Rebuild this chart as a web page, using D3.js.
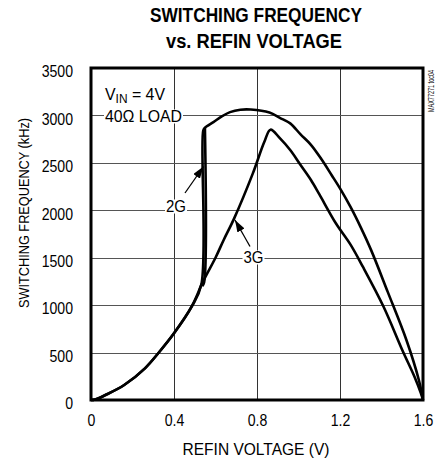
<!DOCTYPE html>
<html>
<head>
<meta charset="utf-8">
<script src="https://cdn.jsdelivr.net/npm/d3@7"></script>
<style>
  body { margin: 0; background: #fff; }
  text { font-family: "Liberation Sans", Arial, sans-serif; fill: #000; }
</style>
</head>
<body>
<div id="chart"></div>
<script>
// tick values
var xTicks = [0, 0.4, 0.8, 1.2, 1.6];
var yTicks = [0, 500, 1000, 1500, 2000, 2500, 3000, 3500];

// 3G curve: REFIN voltage (V) / switching frequency (kHz)
var v3G = [0, 0.02, 0.07, 0.16, 0.26, 0.33, 0.40, 0.485, 0.54, 0.60, 0.64, 0.69, 0.78, 0.835, 0.865,
           0.91, 0.96, 1.01, 1.06, 1.10, 1.18, 1.25, 1.31, 1.41, 1.50, 1.56, 1.59, 1.6];
var f3G = [0, 5, 53, 158, 334, 509, 703, 984, 1250, 1500, 1690, 1915, 2389, 2720, 2850,
           2760, 2635, 2477, 2319, 2170, 1863, 1640, 1405, 983, 527, 240, 70, 0];

// 2G curve (same rising part as 3G up to the jump)
var v2G = [0, 0.02, 0.07, 0.16, 0.26, 0.33, 0.40, 0.485, 0.532, 0.541, 0.549, 0.59, 0.63, 0.67, 0.72, 0.77,
           0.86, 0.91, 0.96, 1.01, 1.06, 1.11, 1.16, 1.20, 1.25, 1.30, 1.35, 1.43, 1.52, 1.58, 1.6];
var f2G = [0, 5, 53, 158, 334, 509, 703, 984, 1220, 2840, 2870, 2930, 2990, 3035, 3060, 3062,
           3030, 2975, 2916, 2800, 2690, 2540, 2370, 2231, 2038, 1820, 1580, 1140, 633, 211, 0];

// 2G return path of the narrow loop at the jump
var v2Gret = [0.549, 0.545, 0.536];
var f2Gret = [2870, 1240, 1200];

var W = 435, H = 464;
var svg = d3.select('#chart').append('svg').attr('width', W).attr('height', H);

svg.append('defs').append('marker').attr('id', 'arrow')
    .attr('viewBox', '0 0 12 8').attr('refX', 12).attr('refY', 4)
    .attr('markerWidth', 12).attr('markerHeight', 8)
    .attr('markerUnits', 'userSpaceOnUse').attr('orient', 'auto')
    .append('path').attr('d', 'M0,0 L12,4 L0,8 Z').attr('fill', '#000');

var x = d3.scaleLinear().domain([0, 1.6]).range([91, 423]);
var y = d3.scaleLinear().domain([0, 3500]).range([400, 68]);

// grid as thin filled rects
svg.selectAll('rect.vgrid').data(xTicks.slice(1, -1)).enter().append('rect').attr('class', 'vgrid')
    .attr('x', function(d) { return Math.round(x(d)); }).attr('width', 1)
    .attr('y', y(3500)).attr('height', y(0) - y(3500))
    .attr('fill', '#333');
svg.selectAll('rect.hgrid').data(yTicks.slice(1, -1)).enter().append('rect').attr('class', 'hgrid')
    .attr('y', function(d) { return Math.round(y(d)); }).attr('height', 1)
    .attr('x', x(0)).attr('width', x(1.6) - x(0))
    .attr('fill', '#555');

// squeeze text to look like the narrow face of the original
function squeeze(sel, k) {
    sel.each(function() {
        var len = this.getComputedTextLength();
        d3.select(this).attr('textLength', len * k).attr('lengthAdjust', 'spacingAndGlyphs');
    });
    return sel;
}

// title
svg.append('text').attr('x', 256).attr('y', 22).attr('text-anchor', 'middle')
    .style('font-size', '20px').style('font-weight', 'bold')
    .attr('textLength', 212).attr('lengthAdjust', 'spacingAndGlyphs').text('SWITCHING FREQUENCY');
svg.append('text').attr('x', 254).attr('y', 48).attr('text-anchor', 'middle')
    .style('font-size', '20px').style('font-weight', 'bold')
    .attr('textLength', 176).attr('lengthAdjust', 'spacingAndGlyphs').text('vs. REFIN VOLTAGE');

// tick labels
var xAxis = svg.append('g').attr('transform', 'translate(0,' + y(0) + ')')
    .call(d3.axisBottom(x).tickValues(xTicks).tickSize(0).tickPadding(15)
        .tickFormat(function(d) { return d === 0 ? '0' : d3.format('.1f')(d); }));
xAxis.select('.domain').remove();
squeeze(xAxis.selectAll('text').style('font-size', '16px').style('font-family', null), 0.88);

var yAxis = svg.append('g').attr('transform', 'translate(' + x(0) + ',0)')
    .call(d3.axisLeft(y).tickValues(yTicks).tickSize(0).tickPadding(18).tickFormat(d3.format('d')));
yAxis.select('.domain').remove();
squeeze(yAxis.selectAll('text').style('font-size', '16px').style('font-family', null)
    .attr('dy', '0.55em'), 0.88);

// axis titles
svg.append('text').attr('x', 256).attr('y', 455).attr('text-anchor', 'middle')
    .style('font-size', '16px').attr('textLength', 147).attr('lengthAdjust', 'spacingAndGlyphs')
    .text('REFIN VOLTAGE (V)');
svg.append('text').attr('transform', 'translate(29,213) rotate(-90)')
    .attr('text-anchor', 'middle').style('font-size', '15px')
    .attr('textLength', 190).attr('lengthAdjust', 'spacingAndGlyphs')
    .text('SWITCHING FREQUENCY (kHz)');

// side code
svg.append('text').attr('transform', 'translate(434,91) rotate(-90)')
    .attr('text-anchor', 'middle').style('font-size', '9px')
    .attr('textLength', 42).attr('lengthAdjust', 'spacingAndGlyphs')
    .text('MAX77271 toc04');

// curves
var line = d3.line().curve(d3.curveCatmullRom.alpha(0.5))
    .x(function(d) { return x(d[0]); }).y(function(d) { return y(d[1]); });
var curves = [d3.zip(v3G, f3G), d3.zip(v2G, f2G), d3.zip(v2Gret, f2Gret)];
svg.selectAll('.curve').data(curves).enter().append('path').attr('class', 'curve')
    .attr('d', line).attr('fill', 'none').attr('stroke', '#000')
    .attr('stroke-width', 2.6).attr('stroke-linejoin', 'round');

// arrows
svg.append('line').attr('x1', 185).attr('y1', 193).attr('x2', 203.5).attr('y2', 166.5)
    .attr('stroke', '#000').attr('stroke-width', 1.3).attr('marker-end', 'url(#arrow)');
svg.append('line').attr('x1', 250).attr('y1', 246.5).attr('x2', 235).attr('y2', 220)
    .attr('stroke', '#000').attr('stroke-width', 1.3).attr('marker-end', 'url(#arrow)');

// annotations on white boxes
function boxed(t) {
    var b = t.node().getBBox();
    svg.insert('rect', function() { return t.node(); })
        .attr('x', b.x - 1).attr('y', b.y + 2).attr('width', b.width + 2).attr('height', b.height - 3)
        .attr('fill', '#fff');
    return t;
}

var vin = svg.append('text').attr('x', 105).attr('y', 100).style('font-size', '16px');
vin.append('tspan').text('V');
vin.append('tspan').attr('dy', 3).style('font-size', '12px').text('IN');
vin.append('tspan').attr('dy', -3).text(' = 4V');
vin.attr('textLength', 60).attr('lengthAdjust', 'spacingAndGlyphs');
boxed(svg.append('text').attr('x', 105).attr('y', 121.5).style('font-size', '16px')
    .attr('textLength', 77).attr('lengthAdjust', 'spacingAndGlyphs').text('40\u03A9 LOAD'));

boxed(svg.append('text').attr('x', 176).attr('y', 211.5).attr('text-anchor', 'middle')
    .style('font-size', '16px').attr('textLength', 20).attr('lengthAdjust', 'spacingAndGlyphs').text('2G'));
boxed(svg.append('text').attr('x', 253.5).attr('y', 262.5).attr('text-anchor', 'middle')
    .style('font-size', '16px').attr('textLength', 20).attr('lengthAdjust', 'spacingAndGlyphs').text('3G'));

// frame
svg.append('rect').attr('x', x(0)).attr('y', y(3500))
    .attr('width', x(1.6) - x(0)).attr('height', y(0) - y(3500))
    .attr('fill', 'none').attr('stroke', '#000').attr('stroke-width', 3);
</script>
</body>
</html>
